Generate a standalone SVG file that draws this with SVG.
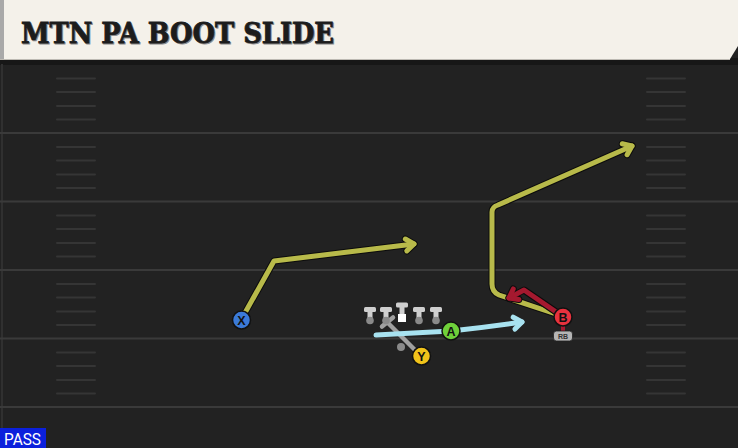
<svg xmlns="http://www.w3.org/2000/svg" xmlns:xlink="http://www.w3.org/1999/xlink" width="738" height="448" viewBox="0 0 738 448">
<style>
.yl{stroke:#3a3a3a;stroke-width:2;fill:none}
.hm{stroke:#353535;stroke-width:2;fill:none;stroke-linecap:round}
.out{fill:none;stroke:#0c0c0c;stroke-width:7;stroke-linejoin:round;stroke-linecap:round}
.yel{fill:none;stroke:#b8ba4a;stroke-width:5;stroke-linejoin:round;stroke-linecap:round}
.red{fill:none;stroke:#a5192f;stroke-width:5;stroke-linejoin:round;stroke-linecap:round}
.cyn{fill:none;stroke:#a8e2f0;stroke-width:5;stroke-linejoin:round;stroke-linecap:round}
.gry{fill:none;stroke:#a0a0a0;stroke-width:4.5;stroke-linecap:round}
.pc{stroke:#111;stroke-width:1.5}
.lt{font-family:"Liberation Sans",Arial,sans-serif;font-weight:bold;font-size:12.5px;fill:#111;text-anchor:middle}
.tee{fill:#cfcfcf}
.dot{fill:#8a8a8a}
.ttl{font-family:"DejaVu Serif",serif;font-weight:bold;font-size:28px}
</style>
<defs>
<marker id="mo" markerUnits="userSpaceOnUse" orient="auto" refX="0" refY="0" markerWidth="30" markerHeight="30" viewBox="-15 -15 30 30" overflow="visible">
<path d="M-8,-6 L0,0 L-8,6" fill="none" stroke="#0c0c0c" stroke-width="7" stroke-linecap="round" stroke-linejoin="round"/>
</marker>
<marker id="my" markerUnits="userSpaceOnUse" orient="auto" refX="0" refY="0" markerWidth="30" markerHeight="30" viewBox="-15 -15 30 30" overflow="visible">
<path d="M-8,-6 L0,0 L-8,6" fill="none" stroke="#b8ba4a" stroke-width="5" stroke-linecap="round" stroke-linejoin="round"/>
</marker>
<marker id="mr" markerUnits="userSpaceOnUse" orient="auto" refX="0" refY="0" markerWidth="30" markerHeight="30" viewBox="-15 -15 30 30" overflow="visible">
<path d="M-8,-6 L0,0 L-8,6" fill="none" stroke="#a5192f" stroke-width="5" stroke-linecap="round" stroke-linejoin="round"/>
</marker>
<marker id="mc" markerUnits="userSpaceOnUse" orient="auto" refX="0" refY="0" markerWidth="30" markerHeight="30" viewBox="-15 -15 30 30" overflow="visible">
<path d="M-8,-6 L0,0 L-8,6" fill="none" stroke="#a8e2f0" stroke-width="5" stroke-linecap="round" stroke-linejoin="round"/>
</marker>
<path id="rX" d="M241,320 L274,261 L414,244"/>
<path id="rB" d="M562,316 L499,295 Q492,292 492,284 L492,212 Q492,207 498,205 L632,146"/>
<path id="rR" d="M562,316 L524,290 L509,298"/>
<path id="rA" d="M376,335 L451,331 Q488,327 522,322"/>
</defs>

<!-- field -->
<rect x="0" y="0" width="738" height="448" fill="#222222"/>
<rect x="0" y="58" width="738" height="7" fill="#171717"/>
<line x1="2" y1="64" x2="2" y2="448" stroke="#303030" stroke-width="2"/>
<g id="yardlines">
<line class="yl" x1="0" y1="133" x2="738" y2="133"/>
<line class="yl" x1="0" y1="201.5" x2="738" y2="201.5"/>
<line class="yl" x1="0" y1="270" x2="738" y2="270"/>
<line class="yl" x1="0" y1="338.5" x2="738" y2="338.5"/>
<line class="yl" x1="0" y1="407" x2="738" y2="407"/>
</g>
<g id="hashes">
<path class="hm" d="M57,78.5H95M57,92H95M57,106H95M57,119.5H95M57,147H95M57,160.5H95M57,174.5H95M57,188H95M57,215.5H95M57,229H95M57,243H95M57,256.5H95M57,284H95M57,297.5H95M57,311.5H95M57,325H95M57,352.5H95M57,366H95M57,380H95M57,393.5H95"/>
<path class="hm" d="M647,78.5H685M647,92H685M647,106H685M647,119.5H685M647,147H685M647,160.5H685M647,174.5H685M647,188H685M647,215.5H685M647,229H685M647,243H685M647,256.5H685M647,284H685M647,297.5H685M647,311.5H685M647,325H685M647,352.5H685M647,366H685M647,380H685M647,393.5H685"/>
</g>

<!-- title bar -->
<g id="title">
<path d="M0,0 H738 V46 L730,59 H0 Z" fill="#f4f1ea"/>
<rect x="0" y="0" width="4" height="59" fill="#a9a9a9"/>
<line x1="0" y1="59.5" x2="730" y2="59.5" stroke="#bdbab3" stroke-width="1"/>
<text class="ttl" x="22" y="43.5" fill="#8a8a8a" stroke="#8a8a8a" stroke-width="0.8" textLength="313" lengthAdjust="spacingAndGlyphs">MTN PA BOOT SLIDE</text>
<text class="ttl" x="21" y="42.5" fill="#1c1c1c" stroke="#1c1c1c" stroke-width="0.8" textLength="313" lengthAdjust="spacingAndGlyphs">MTN PA BOOT SLIDE</text>
</g>

<!-- connectors -->
<g id="connectors">
<use xlink:href="#rX" class="out" marker-end="url(#mo)"/>
<use xlink:href="#rX" class="yel" marker-end="url(#my)"/>
<use xlink:href="#rB" class="out" marker-end="url(#mo)"/>
<use xlink:href="#rB" class="yel" marker-end="url(#my)"/>
<use xlink:href="#rR" class="out" marker-end="url(#mo)"/>
<use xlink:href="#rR" class="red" marker-end="url(#mr)"/>
<line x1="563" y1="318" x2="563" y2="333" stroke="#a5192f" stroke-width="4"/>
<path d="M421,356 L387,322" class="gry"/>
<path d="M382,326.5 L393,317.5" class="gry"/>
<use xlink:href="#rA" class="cyn" marker-end="url(#mc)"/>
</g>

<!-- offensive line -->
<g id="line">
<g id="lt"><rect class="tee" x="364" y="307" width="12" height="5" rx="1.5"/><rect class="tee" x="367.5" y="311" width="5" height="8"/><circle class="dot" cx="370" cy="320.5" r="3.8"/></g>
<g id="lg"><rect class="tee" x="380" y="307" width="12" height="5" rx="1.5"/><rect class="tee" x="383.5" y="311" width="5" height="8"/><circle class="dot" cx="386" cy="320.5" r="3.8"/></g>
<g id="c"><rect class="tee" x="396" y="302.5" width="12" height="5" rx="1.5"/><rect class="tee" x="399.5" y="306" width="5" height="8"/><rect x="398" y="314" width="8" height="8" fill="#ffffff"/></g>
<g id="rg"><rect class="tee" x="413" y="307" width="12" height="5" rx="1.5"/><rect class="tee" x="416.5" y="311" width="5" height="8"/><circle class="dot" cx="419" cy="320.5" r="3.8"/></g>
<g id="rt"><rect class="tee" x="430" y="307" width="12" height="5" rx="1.5"/><rect class="tee" x="433.5" y="311" width="5" height="8"/><circle class="dot" cx="436" cy="320.5" r="3.8"/></g>
</g>
<g id="qb"><circle class="dot" cx="401" cy="347" r="4"/></g>

<!-- players -->
<g id="X"><circle class="pc" cx="241.5" cy="320" r="9" fill="#3b7ad8"/><text class="lt" x="241.5" y="324.5">X</text></g>
<g id="A"><circle class="pc" cx="451" cy="331" r="9" fill="#6fd03a"/><text class="lt" x="451" y="335.5">A</text></g>
<g id="Y"><circle class="pc" cx="421.5" cy="356" r="9" fill="#f1c31a"/><text class="lt" x="421.5" y="360.5">Y</text></g>
<g id="B"><circle class="pc" cx="563" cy="317" r="9" fill="#e8323e"/><text class="lt" x="563" y="321.5">B</text></g>
<g id="RB"><rect x="553.5" y="331" width="19" height="10" rx="3" fill="#b5b5b5" stroke="#222" stroke-width="0.8"/><text x="563" y="339" font-family="'Liberation Sans',Arial,sans-serif" font-weight="bold" font-size="7" fill="#333" text-anchor="middle">RB</text></g>

<!-- pass tag -->
<g id="pass"><rect x="0" y="428" width="46" height="20" fill="#0b20dc"/><text x="4" y="445" font-family="Roboto,'Liberation Sans',sans-serif" font-size="16" fill="#ffffff" textLength="37" lengthAdjust="spacingAndGlyphs">PASS</text></g>
</svg>
